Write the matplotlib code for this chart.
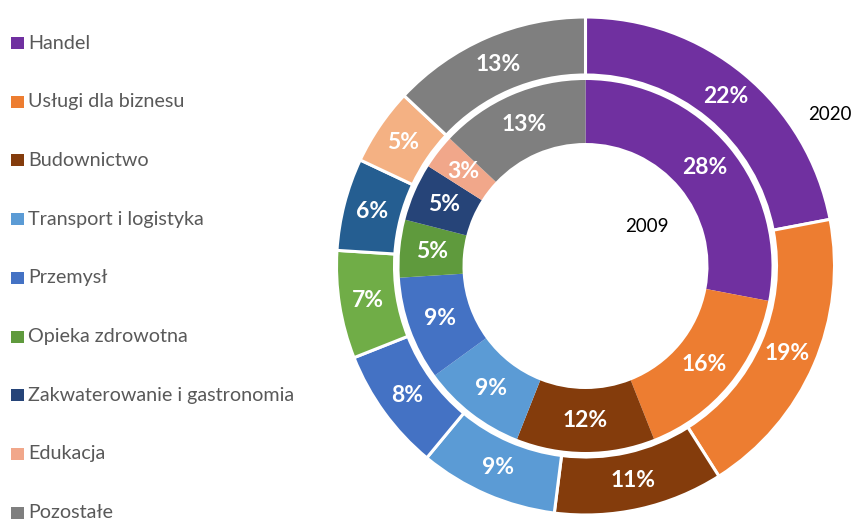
import matplotlib
matplotlib.use("Agg")
import matplotlib.pyplot as plt
from matplotlib.patches import Rectangle

plt.rcParams['font.family'] = ['Lato', 'DejaVu Sans']

categories = ["Handel", "Usługi dla biznesu", "Budownictwo", "Transport i logistyka",
              "Przemysł", "Opieka zdrowotna", "Zakwaterowanie i gastronomia",
              "Edukacja", "Pozostałe"]
values_2020 = [22, 19, 11, 9, 8, 7, 6, 5, 13]
values_2009 = [28, 16, 12, 9, 9, 5, 5, 3, 13]
colors_2020 = ["#7030A0", "#ED7D31", "#843C0C", "#5B9BD5", "#4472C4",
               "#70AD47", "#255E91", "#F4B183", "#7F7F7F"]
colors_2009 = ["#7030A0", "#ED7D31", "#843C0C", "#5B9BD5", "#4472C4",
               "#5F9A3D", "#264478", "#F1A78A", "#7F7F7F"]
ring_labels = ["2020", "2009"]

W, H = 853, 521
fig = plt.figure(figsize=(W / 100, H / 100), dpi=100)
ax = fig.add_axes([0, 0, 1, 1])

cx, cy = 585.5, H - 266
R_out, R_out_in = 249, 191
R_in, R_in_in = 186, 123

lab_font = dict(color='white', fontsize=16.5, fontweight='bold')

ax.pie(values_2020, colors=colors_2020, radius=R_out, center=(cx, cy),
       startangle=90, counterclock=False,
       wedgeprops=dict(width=R_out - R_out_in, edgecolor='white', linewidth=2.2),
       labels=[f"{v}%" for v in values_2020], labeldistance=(R_out + R_out_in) / 2 / R_out,
       textprops=dict(ha='center', va='center', **lab_font), frame=True)
ax.pie(values_2009, colors=colors_2009, radius=R_in, center=(cx, cy),
       startangle=90, counterclock=False,
       wedgeprops=dict(width=R_in - R_in_in, linewidth=0),
       labels=[f"{v}%" for v in values_2009], labeldistance=(R_in + R_in_in) / 2 / R_in,
       textprops=dict(ha='center', va='center', **lab_font), frame=True)
ax.set_xlim(0, W)
ax.set_ylim(0, H)
ax.set_aspect('equal')
ax.axis('off')

ax.text(830, H - 114, ring_labels[0], ha='center', va='center', fontsize=13.5, color='black')
ax.text(647, H - 226, ring_labels[1], ha='center', va='center', fontsize=13.5, color='black')

# legend
y0, dy = 43, 58.7
for i, (name, col) in enumerate(zip(categories, colors_2009)):
    y = H - (y0 + i * dy)
    ax.add_patch(Rectangle((11, y - 6), 13, 12, facecolor=col, edgecolor='none'))
    ax.text(28, y, name, ha='left', va='center', fontsize=14.2, color='#595959')

fig.savefig("out.png", dpi=100)
